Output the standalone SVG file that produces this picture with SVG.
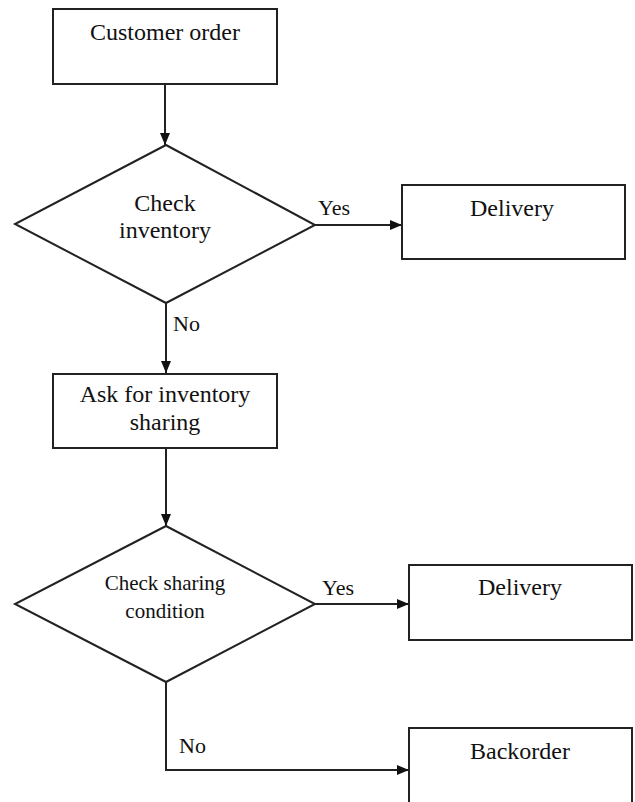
<svg xmlns="http://www.w3.org/2000/svg" width="635" height="802" viewBox="0 0 635 802">
<style>
.box{fill:#fff;stroke:#222;stroke-width:2}
.ln{fill:none;stroke:#222;stroke-width:2}
.t{font-family:"Liberation Serif","Times New Roman",serif;fill:#111;text-anchor:middle;font-size:24px}
.s{font-size:21px}
.lab{font-family:"Liberation Serif","Times New Roman",serif;fill:#111;font-size:22px}
</style>
<defs>
<marker id="ah" markerUnits="userSpaceOnUse" markerWidth="12" markerHeight="12" viewBox="0 0 12 12" refX="12" refY="6" orient="auto">
<path d="M0,1 L12,6 L0,11 Z" fill="#111"/>
</marker>
</defs>
<rect width="635" height="802" fill="#fff"/>
<g id="connectors">
<line class="ln" x1="165" y1="84" x2="165" y2="145" marker-end="url(#ah)"/>
<line class="ln" x1="315" y1="225" x2="402" y2="225" marker-end="url(#ah)"/>
<line class="ln" x1="166" y1="303" x2="166" y2="373" marker-end="url(#ah)"/>
<line class="ln" x1="166" y1="448" x2="166" y2="526" marker-end="url(#ah)"/>
<line class="ln" x1="315" y1="604" x2="409" y2="604" marker-end="url(#ah)"/>
<polyline class="ln" points="166,682 166,770 409,770" marker-end="url(#ah)"/>
<text class="lab" x="318" y="215">Yes</text>
<text class="lab" x="173" y="331">No</text>
<text class="lab" x="322" y="595">Yes</text>
<text class="lab" x="179" y="753">No</text>
</g>
<g id="customer-order">
<rect class="box" x="53" y="9" width="224" height="75"/>
<text class="t" x="165" y="40">Customer order</text>
</g>
<g id="check-inventory">
<polygon class="box" points="166,145 315,225 166,303 15,224"/>
<text class="t" x="165" y="211">Check</text>
<text class="t" x="165" y="238">inventory</text>
</g>
<g id="delivery-1">
<rect class="box" x="402" y="185" width="223" height="74"/>
<text class="t" x="512" y="216">Delivery</text>
</g>
<g id="ask-sharing">
<rect class="box" x="53" y="374" width="224" height="74"/>
<text class="t" x="165" y="402">Ask for inventory</text>
<text class="t" x="165" y="430">sharing</text>
</g>
<g id="check-sharing">
<polygon class="box" points="166,526 315,604 166,682 15,604"/>
<text class="t s" x="165" y="590">Check sharing</text>
<text class="t s" x="165" y="618">condition</text>
</g>
<g id="delivery-2">
<rect class="box" x="409" y="565" width="223" height="75"/>
<text class="t" x="520" y="595">Delivery</text>
</g>
<g id="backorder">
<rect class="box" x="409" y="728" width="223" height="90"/>
<text class="t" x="520" y="759">Backorder</text>
</g>
</svg>
